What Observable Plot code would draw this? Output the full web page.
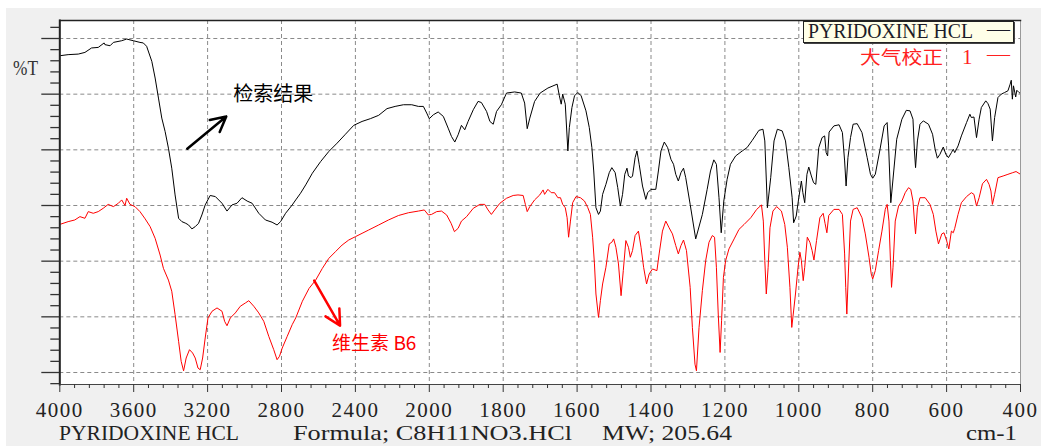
<!DOCTYPE html>
<html><head><meta charset="utf-8">
<script src="https://cdn.jsdelivr.net/npm/d3@7"></script>
<script src="https://cdn.jsdelivr.net/npm/@observablehq/plot@0.6"></script>
<style>
html,body{margin:0;padding:0;background:#fff;}
#wrap{position:relative;width:1041px;height:446px;overflow:hidden;}
#chart{position:absolute;left:6px;top:8px;}
g[aria-label="x-axis tick label"] text{letter-spacing:1.5px;}
</style></head><body><div id="wrap"><div id="chart"></div></div>
<script>
// ---- data: reference spectrum (black) ----
const blackWn = [4000,3955,3900,3864,3828,3792,3760,3756,3728,3710,3665,3638,3602,3566,3548,3530,3502,3484,3466,3448,3430,3412,3394,3376,3357,3339,3318,3303,3285,3267,3249,3231,3213,3186,3158,3122,3095,3068,3041,3014,2986,2959,2923,2887,2851,2824,2805,2778,2742,2723,2697,2669,2633,2588,2544,2499,2454,2409,2364,2319,2274,2229,2185,2140,2095,2059,2032,2014,2000,1989,1976,1962,1949,1940,1931,1922,1913,1904,1895,1881,1868,1859,1845,1836,1827,1818,1805,1791,1769,1751,1742,1735,1728,1715,1700,1679,1654,1648,1643,1639,1632,1625,1621,1614,1607,1598,1589,1576,1567,1560,1555,1549,1542,1537,1531,1522,1513,1506,1497,1490,1483,1477,1471,1465,1461,1454,1450,1443,1438,1432,1423,1414,1409,1400,1387,1380,1373,1364,1355,1346,1339,1333,1326,1319,1312,1306,1294,1279,1261,1248,1239,1230,1223,1216,1210,1203,1194,1185,1171,1153,1140,1126,1108,1097,1092,1085,1076,1067,1058,1045,1036,1027,1018,1014,1007,1000,993,989,984,978,973,966,960,954,946,937,930,926,922,918,905,891,882,876,872,867,860,853,842,829,815,806,800,793,781,769,761,757,751,743,735,721,709,699,691,687,684,679,672,663,649,638,631,625,618,609,602,595,587,582,578,569,560,546,537,533,526,519,512,506,494,488,482,476,470,461,452,443,434,428,425,422,419,413,410,404,400];
const blackT = [56.9,57.1,57.2,57.5,58.3,58.4,59.2,58.9,58.7,59.3,59.6,59.9,59.6,59.3,59.2,58.6,55.9,52.9,49.3,45.7,43.3,40.3,36.7,31.9,27.7,27.1,26.8,26.5,25.8,26.2,26.8,28.3,30.1,31.8,31.6,30.4,29.0,30.1,30.4,31.4,30.8,30.4,28.6,27.4,27.0,26.5,27.1,28.6,30.1,31.0,32.2,33.7,35.8,37.9,39.7,41.2,42.8,44.4,45.1,45.6,46.2,47.4,47.8,48.1,48.1,47.8,47.8,46.6,45.6,46.3,46.8,46.0,43.9,42.4,41.4,42.7,44.4,43.6,45.1,47.2,48.7,48.5,46.9,45.1,44.6,46.9,48.1,50.2,50.4,50.2,48.4,43.8,45.7,48.7,50.2,51.1,51.8,49.7,48.2,50.0,48.2,39.8,44.0,47.6,49.7,50.3,49.7,47.0,44.0,40.4,36.2,29.6,28.4,29.0,32.0,33.8,35.9,36.8,35.9,33.2,29.9,32.0,35.6,36.7,35.3,35.0,35.3,38.6,39.8,37.4,33.5,31.1,32.3,32.9,32.9,36.2,39.8,41.4,40.4,38.3,37.4,35.6,34.4,35.9,36.7,35.0,30.2,24.0,28.4,32.9,36.2,38.2,37.4,31.4,25.1,30.8,34.7,37.4,38.9,39.8,40.4,41.7,43.5,43.7,41.6,29.6,35.0,41.6,43.7,43.4,41.6,36.8,31.4,26.9,28.1,31.4,34.4,32.3,30.5,35.6,36.9,35.3,34.1,33.8,40.4,42.2,42.5,39.5,38.9,43.2,44.3,44.5,43.1,38.0,33.5,38.6,42.2,44.6,44.7,43.1,38.6,35.6,34.9,35.6,39.8,44.3,44.9,40.7,30.5,36.2,41.9,45.5,47.1,47.0,45.5,39.8,36.8,41.6,44.6,45.2,44.6,42.8,40.1,38.5,39.2,40.5,39.2,38.6,39.5,40.1,39.5,40.7,42.5,44.9,46.4,45.8,45.9,42.2,45.5,47.6,48.8,48.3,47.3,41.6,45.8,49.4,50.0,50.3,50.6,51.8,52.5,49.1,51.5,49.5,50.7,50.3,50.1];

// ---- data: measured spectrum (red) ----
const redWn = [4000,3955,3919,3891,3864,3846,3819,3792,3765,3738,3710,3683,3665,3647,3638,3620,3593,3566,3538,3511,3484,3457,3439,3412,3394,3376,3357,3343,3330,3316,3298,3281,3267,3252,3240,3227,3213,3198,3176,3149,3122,3108,3095,3077,3050,3023,2995,2977,2950,2923,2896,2869,2842,2824,2811,2796,2769,2742,2723,2687,2651,2615,2579,2544,2508,2472,2436,2400,2364,2328,2274,2221,2167,2113,2059,2027,2005,1994,1980,1967,1953,1941,1932,1922,1913,1899,1881,1863,1850,1841,1832,1823,1809,1791,1773,1760,1746,1740,1735,1728,1715,1701,1692,1688,1679,1670,1661,1652,1645,1639,1632,1627,1623,1618,1612,1603,1591,1580,1571,1564,1558,1553,1549,1542,1537,1531,1522,1513,1506,1501,1495,1488,1481,1475,1468,1461,1456,1450,1443,1434,1427,1420,1412,1405,1396,1384,1378,1369,1360,1351,1342,1333,1326,1319,1312,1304,1294,1288,1281,1277,1270,1261,1252,1243,1234,1228,1223,1218,1213,1209,1204,1198,1189,1175,1162,1148,1130,1114,1101,1096,1092,1088,1083,1078,1070,1060,1047,1038,1031,1024,1019,1015,1009,1002,997,993,988,984,977,970,964,959,952,943,934,929,924,919,905,891,882,876,873,870,866,860,853,842,829,820,810,804,800,793,784,775,766,761,756,752,749,745,739,730,721,712,703,697,691,687,684,679,672,658,645,636,629,622,613,607,600,594,587,582,578,569,560,546,533,526,519,512,503,492,485,480,476,470,461,447,434,421,412,400];
const redT = [26.6,27.1,27.4,28.0,27.7,28.9,28.6,28.9,29.5,30.2,29.8,30.4,31.0,30.0,31.3,30.2,29.8,28.9,27.6,26.2,24.1,21.1,18.7,16.6,14.6,10.4,5.6,2.0,0.3,2.6,4.1,3.5,2.6,0.8,0.5,2.6,6.2,9.8,11.0,11.6,11.0,9.2,8.4,9.8,10.7,11.9,12.5,12.9,11.9,10.7,9.2,6.5,4.1,2.3,2.9,4.4,6.5,8.6,9.8,12.8,15.1,16.6,18.7,20.5,21.7,22.9,23.8,24.4,25.0,25.6,26.5,27.4,28.2,28.7,29.0,29.2,28.3,28.4,28.9,29.0,28.3,26.8,25.3,25.9,27.2,28.0,29.5,30.2,30.2,29.2,28.4,29.2,30.4,31.3,31.8,31.9,31.8,30.2,28.9,29.8,31.0,31.9,32.8,32.0,32.9,32.3,32.3,31.4,31.4,30.2,29.6,27.8,24.3,27.2,30.5,31.6,31.4,30.8,29.6,28.4,24.3,19.5,14.1,9.9,12.9,15.9,18.9,23.1,23.4,24.0,22.5,19.5,13.8,18.3,23.7,22.5,20.7,21.9,24.6,25.4,22.5,18.9,15.9,17.7,18.6,18.3,21.3,25.4,27.2,26.0,24.9,22.8,21.3,22.8,23.8,21.9,15.3,8.1,1.5,0.3,8.1,14.7,20.1,23.4,24.6,24.3,18.9,10.5,3.6,9.3,17.1,20.1,22.2,24.0,25.7,26.6,27.8,29.3,30.1,27.2,20.1,14.1,18.9,26.0,29.0,29.8,29.0,26.6,22.5,15.3,8.1,10.5,14.1,18.9,21.6,20.1,16.5,18.9,24.3,23.4,21.9,20.2,23.7,27.8,28.6,26.8,25.1,28.2,29.3,29.3,28.4,21.3,15.3,10.5,17.7,27.2,29.3,29.6,27.8,24.9,20.7,17.7,16.8,18.3,21.9,25.4,29.3,30.2,27.2,20.1,15.3,18.9,27.2,29.9,30.8,32.3,33.2,32.9,30.8,27.2,24.9,29.6,31.4,31.4,30.2,28.4,25.4,23.1,24.9,25.1,23.7,22.2,25.4,25.1,25.9,28.4,30.5,31.6,32.3,32.0,29.9,31.4,33.9,34.7,33.8,32.6,30.2,32.0,35.0,35.3,35.6,35.9,36.1,35.6];

// ---- axes ----
const xMajor = [4000,3600,3200,2800,2400,2000,1800,1600,1400,1200,1000,800,600,400];
const xGrid = [3600,3200,2800,2400,2000,1800,1600,1400,1200,1000,800,600];
const xMinor = [3920,3840,3760,3680,3520,3440,3360,3280,3120,3040,2960,2880,2720,2640,2560,2480,2320,2240,2160,2080,1960,1920,1880,1840,1760,1720,1680,1640,1560,1520,1480,1440,1360,1320,1280,1240,1160,1120,1080,1040,960,920,880,840,760,720,680,640,560,520,480,440];
const yMajor = [0,10,20,30,40,50,60];
const yMinor = [-2,2,4,6,8,12,14,16,18,22,24,26,28,32,34,36,38,42,44,46,48,52,54,56,58,62];

// ---- annotations ----
const arrowX1 = [3310, 2623], arrowY1 = [40.2, 16.5], arrowX2 = [3099, 2483], arrowY2 = [46.0, 8.4];
const arrowColor = ["#000", "#ff0000"];
const annoText = ["检索结果", "维生素 B6"], annoX = [3061, 2526], annoY = [49.9, 5.2];
const annoColor = ["#000", "#ff0000"], annoSize = [20, 19];

const black = blackWn.map((w, i) => ({wn: w, t: blackT[i]}));
const red = redWn.map((w, i) => ({wn: w, t: redT[i]}));
const arrows = arrowX1.map((d, i) => ({x1: d, y1: arrowY1[i], x2: arrowX2[i], y2: arrowY2[i], c: arrowColor[i]}));
const annos = annoText.map((s, i) => ({s, x: annoX[i], y: annoY[i], c: annoColor[i], size: annoSize[i]}));

const grid = {stroke: "#8a8a8a", strokeOpacity: 1, strokeDasharray: "4,3", strokeWidth: 1};

// IR convention: the scale below 2000 cm-1 is twice as wide as above it
const irTransform = w => (w >= 2000 ? w : 2000 - (2000 - w) * 2);

const chart = Plot.plot({
  width: 1035, height: 438,
  marginLeft: 53.3, marginRight: 21, marginTop: 12, marginBottom: 62,
  style: "background:#f0f0f0;overflow:visible;",
  x: {type: "linear", transform: irTransform, domain: [4000, -1200], range: [53.3, 1014]},
  y: {domain: [0, 60], range: [364, 30]},
  marks: [
    Plot.frame({fill: "white"}),
    Plot.gridY(yMajor, grid),
    Plot.gridX(xGrid, grid),
    Plot.line(black, {x: "wn", y: "t", stroke: "#000", strokeWidth: 1}),
    Plot.line(red, {x: "wn", y: "t", stroke: "#ff0000", strokeWidth: 1}),
    Plot.frame({stroke: "#9a9a9a"}),
    Plot.frame({anchor: "left", stroke: "#222", strokeWidth: 2}),
    Plot.frame({anchor: "top", stroke: "#222", strokeWidth: 1.5}),
    Plot.frame({anchor: "bottom", stroke: "#444", strokeWidth: 1}),
    Plot.axisX(xMajor, {tickSize: 8, tickPadding: 10, fontSize: 21, fontFamily: "Liberation Serif", tickFormat: d => String(d), label: null, fill: "#222", stroke: "#333"}),
    Plot.axisX(xMinor, {tickSize: 4, fill: "none", label: null, stroke: "#333"}),
    Plot.axisY(yMajor, {tickSize: 18, fill: "none", label: null, stroke: "#333", strokeWidth: 1.3}),
    Plot.axisY(yMinor, {tickSize: 9, fill: "none", label: null, stroke: "#333", strokeWidth: 1.3}),
    Plot.arrow(arrows, {x1: "x1", y1: "y1", x2: "x2", y2: "y2", stroke: "c", strokeWidth: 2.5, headLength: 13, headAngle: 55}),
    Plot.text(annos, {x: "x", y: "y", text: "s", fill: "c", fontSize: "size", textAnchor: "start", lineAnchor: "middle", fontFamily: "Noto Sans CJK SC"})
  ]
});
document.getElementById("chart").appendChild(chart);

// ---- chrome texts (svg coords = page - (6,8)) ----
const svg = d3.select(chart);
function addText(s, x, y, opts) {
  const t = svg.append("text").attr("x", x).attr("y", y).text(s)
    .attr("text-anchor", "start")
    .attr("font-family", opts.font || "Liberation Serif")
    .attr("font-size", opts.size || 21)
    .attr("fill", opts.fill || "#222");
  if (opts.len) t.attr("textLength", opts.len).attr("lengthAdjust", "spacingAndGlyphs");
  return t;
}
addText("%T", 7, 67, {size: 22, len: 25, fill: "#333"});
addText("PYRIDOXINE HCL", 53, 432, {len: 180});
addText("Formula; C8H11NO3.HCl", 287, 432, {len: 279});
addText("MW; 205.64", 596, 432, {len: 130});
addText("cm-1", 960, 432, {len: 51});

// legend
svg.append("rect").attr("x", 797.5).attr("y", 13.5).attr("width", 210).attr("height", 21)
  .attr("fill", "#ffffe8").attr("stroke", "#222").attr("stroke-width", 1);
svg.append("path").attr("d", "M798,35.5H1008.5V14").attr("fill", "none").attr("stroke", "#444").attr("stroke-width", 1);
addText("PYRIDOXINE HCL", 802, 30, {size: 20.5, len: 165, fill: "#1c1c28"});
addText("—", 981, 28, {len: 23, fill: "#1c1c28"});
addText("大气校正", 854, 56, {font: "Noto Sans CJK SC", size: 18, len: 83, fill: "#ff2020"});
addText("1", 956, 56, {size: 21, fill: "#ff2020"});
addText("—", 981, 53, {len: 23, fill: "#ff2020"});
</script></body></html>
